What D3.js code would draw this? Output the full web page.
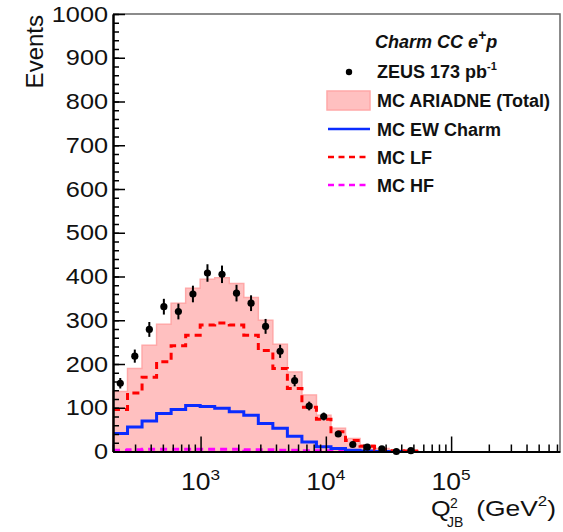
<!DOCTYPE html>
<html>
<head>
<meta charset="utf-8">
<script src="https://cdn.jsdelivr.net/npm/d3@7"></script>
<style>
body{margin:0;background:#fff;}
svg text{font-family:"Liberation Sans",Arial,Helvetica,sans-serif;fill:#111;}
</style>
</head>
<body>
<div class="canvas"></div>
<script>
// binning of Q2 (uniform in log10)
const qMin=200;
const logBinWidth=0.116;

// ZEUS data per bin and its errors
const dataEvents=[156,218,279,331,320,360,408,405,362,339,286,229,162,104,80,40,16,10,6,0,2];
const dataErrors=[12,15,17,18,18,19,20,20,19,18,17,15,13,10,9,6,4,3,2,1,1];

// MC histograms per bin
const mcTotal=[137,190,243,291,339,373,394,397,384,352,300,245,182,129,83,53,30,15,7,3,1];
const mcEwCharm=[41,56,70,87,96,105,103,99,91,83,64,53,35,22,11,7,3,1,0,0,0];
const mcLF=[96,134,170,205,242,266,289,294,289,266,231,190,144,101,74,45,25,12,5,2,1];
const mcHF=[3,4,5,5,5,5,5,5,5,4,4,3,3,2,2,1,1,0,0,0,0];

const yTicks=[0,100,200,300,400,500,600,700,800,900,1000];
const xTicks=[1e3,1e4,1e5];
const xTickExp=['3','4','5'];

const dims={width:563,height:532};
const frame={left:113,right:560,top:14,bottom:451.5};
const stretch=1.15;//axis labels are a bit wider than the font

const svg=d3.select('.canvas')
      .append('svg')
      .attr('width',dims.width)
      .attr('height',dims.height);

const x=d3.scaleLog().domain([qMin,7.4e5]).range([frame.left,frame.right]);
const y=d3.scaleLinear().domain([0,1000]).range([frame.bottom,frame.top]);

const edge=k=>qMin*Math.pow(10,k*logBinWidth);
const centre=k=>qMin*Math.pow(10,(k+0.5)*logBinWidth);

// step points: left edge of each bin, plus right edge of the last one
const steps=vals=>{
  const pts=vals.map((v,k)=>({q:edge(k),v:v}));
  pts.push({q:edge(vals.length),v:vals[vals.length-1]});
  return pts;
};

const area=d3.area().curve(d3.curveStepAfter)
      .x(d=>x(d.q)).y0(y(0)).y1(d=>y(d.v));
const line=d3.line().curve(d3.curveStepAfter)
      .x(d=>x(d.q)).y(d=>y(d.v));

const graph=svg.append('g');

//pink total MC
graph.append('path')
     .attr('d',area(steps(mcTotal)))
     .attr('fill','#ffc0c0')
     .attr('stroke','#ffa8a8')
     .attr('stroke-width',1.5);

graph.append('path')
     .attr('d',line(steps(mcHF)))
     .attr('fill','none').attr('stroke','#ff00ff')
     .attr('stroke-width',3).attr('stroke-dasharray','7,5');

graph.append('path')
     .attr('d',line(steps(mcEwCharm)))
     .attr('fill','none').attr('stroke','#0a2cff')
     .attr('stroke-width',3);

graph.append('path')
     .attr('d',line(steps(mcLF)))
     .attr('fill','none').attr('stroke','#ff0000')
     .attr('stroke-width',3).attr('stroke-dasharray','7,5');

//data points with error bars
const pts=graph.selectAll('g.pt')
      .data(dataEvents)
      .enter().append('g').attr('class','pt');
pts.append('line')
   .attr('x1',(d,i)=>x(centre(i))).attr('x2',(d,i)=>x(centre(i)))
   .attr('y1',(d,i)=>y(Math.max(0,d-dataErrors[i])))
   .attr('y2',(d,i)=>y(d+dataErrors[i]))
   .attr('stroke','#000').attr('stroke-width',2);
pts.append('circle')
   .attr('cx',(d,i)=>x(centre(i))).attr('cy',d=>y(d))
   .attr('r',3.6).attr('fill','#000');

//frame top and right
svg.append('path')
   .attr('d',`M${frame.left},${frame.top}H${frame.right}V${frame.bottom}`)
   .attr('fill','none').attr('stroke','#666').attr('stroke-width',1.5);

//y axis: ticks pointing inside
svg.append('g').attr('transform',`translate(${frame.left},0)`)
   .call(d3.axisLeft(y).tickValues(d3.range(0,1001,20)).tickSizeInner(-6).tickSizeOuter(0).tickFormat(''));
const yAxis=svg.append('g').attr('transform',`translate(${frame.left},0)`)
      .call(d3.axisLeft(y).tickValues(yTicks).tickSizeInner(-12).tickSizeOuter(0).tickPadding(5).tickFormat(d3.format('d')));
yAxis.selectAll('text').attr('font-size',22).attr('fill','#111')
     .attr('font-family','"Liberation Sans",Arial,sans-serif')
     .attr('transform',`scale(${stretch},1)`)
     .attr('x',-5/stretch);
svg.selectAll('.domain').attr('stroke','#000').attr('stroke-width',2);
svg.selectAll('.tick line').attr('stroke','#000').attr('stroke-width',1.5);

//x axis
const minorQ=[];
[2,3,4,5].forEach(e=>{for(let m=2;m<=9;m++){const v=m*Math.pow(10,e);if(v>=qMin&&v<=7.4e5)minorQ.push(v);}});
svg.append('g').attr('transform',`translate(0,${frame.bottom})`)
   .call(d3.axisBottom(x).tickValues(minorQ).tickSizeInner(-7).tickSizeOuter(0).tickFormat(''))
   .call(g=>g.selectAll('line').attr('stroke','#000').attr('stroke-width',1.5))
   .call(g=>g.select('.domain').attr('stroke','#000').attr('stroke-width',2));
svg.append('g').attr('transform',`translate(0,${frame.bottom})`)
   .call(d3.axisBottom(x).tickValues(xTicks).tickSizeInner(-15).tickSizeOuter(0).tickFormat(''))
   .call(g=>g.selectAll('line').attr('stroke','#000').attr('stroke-width',1.5))
   .call(g=>g.select('.domain').remove());

const xl=svg.selectAll('g.xl').data(xTicks).enter()
   .append('g').attr('class','xl')
   .attr('transform',d=>`translate(${x(d)},490) scale(${stretch},1)`)
   .append('text')
   .attr('text-anchor','middle').attr('font-size',23);
xl.append('tspan').text('10');
xl.append('tspan').attr('dy',-10).attr('font-size',15).text((d,i)=>xTickExp[i]);

//axis titles
svg.append('text')
   .attr('transform','translate(43,15) rotate(-90)')
   .attr('text-anchor','end').attr('font-size',24).text('Events');

svg.append('g').attr('transform',`translate(431,516) scale(${stretch},1)`)
   .append('text').attr('font-size',22).text('Q');
svg.append('text').attr('x',450).attr('y',508).attr('font-size',14).text('2');
svg.append('text').attr('x',447).attr('y',527).attr('font-size',14).text('JB');
const xt=svg.append('g').attr('transform',`translate(556,516) scale(1.2,1)`)
   .append('text').attr('text-anchor','end').attr('font-size',22);
xt.append('tspan').text('(GeV');
xt.append('tspan').attr('dy',-10).attr('font-size',14).text('2');
xt.append('tspan').attr('dy',10).text(')');

//legend
const leg=svg.append('g').attr('font-weight','bold').attr('font-size',18);
const t0=leg.append('text').attr('x',375).attr('y',48).attr('font-style','italic');
t0.append('tspan').text('Charm CC e');
t0.append('tspan').attr('dy',-8).attr('font-size',14).text('+');
t0.append('tspan').attr('dy',8).text('p');

leg.append('circle').attr('cx',349).attr('cy',72).attr('r',3.2).attr('fill','#000');
const t1=leg.append('text').attr('x',377).attr('y',78);
t1.append('tspan').text('ZEUS 173 pb');
t1.append('tspan').attr('dy',-8).attr('font-size',11).text('-1');

leg.append('rect').attr('x',327).attr('y',91).attr('width',43).attr('height',19)
   .attr('fill','#ffc0c0').attr('stroke','#ffa8a8').attr('stroke-width',1.5);
leg.append('text').attr('x',377).attr('y',107).text('MC ARIADNE (Total)');

leg.append('line').attr('x1',328).attr('x2',370).attr('y1',129).attr('y2',129)
   .attr('stroke','#0a2cff').attr('stroke-width',2.5);
leg.append('text').attr('x',377).attr('y',136).text('MC EW Charm');

leg.append('line').attr('x1',328).attr('x2',370).attr('y1',157).attr('y2',157)
   .attr('stroke','#ff0000').attr('stroke-width',2.5).attr('stroke-dasharray','6,4.5');
leg.append('text').attr('x',377).attr('y',164).text('MC LF');

leg.append('line').attr('x1',328).attr('x2',370).attr('y1',185).attr('y2',185)
   .attr('stroke','#ff00ff').attr('stroke-width',2.5).attr('stroke-dasharray','6,4.5');
leg.append('text').attr('x',377).attr('y',192).text('MC HF');
</script>
</body>
</html>
